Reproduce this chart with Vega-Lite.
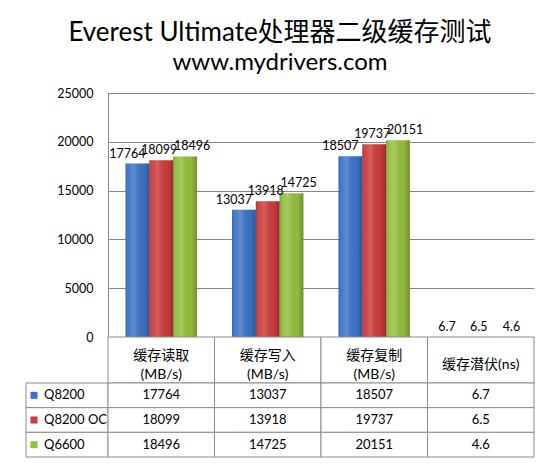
{
  "$schema": "https://vega.github.io/schema/vega-lite/v6.json",
  "background": "white",
  "padding": {"left": 25, "top": 20, "right": 17, "bottom": 9},
  "title": {
    "text": "Everest Ultimate处理器二级缓存测试",
    "subtitle": "www.mydrivers.com",
    "font": "Lato, Noto Sans CJK SC",
    "fontSize": 26,
    "fontWeight": "normal",
    "color": "#000000",
    "subtitleFont": "Lato, Noto Sans CJK SC",
    "subtitleFontSize": 24,
    "subtitleColor": "#000000",
    "subtitlePadding": 5,
    "anchor": "middle",
    "offset": 12
  },
  "datasets": {
    "perf": [
      {"category": "缓存读取\n(MB/s)", "series": "Q8200", "value": 17764},
      {"category": "缓存读取\n(MB/s)", "series": "Q8200 OC", "value": 18099},
      {"category": "缓存读取\n(MB/s)", "series": "Q6600", "value": 18496},
      {"category": "缓存写入\n(MB/s)", "series": "Q8200", "value": 13037},
      {"category": "缓存写入\n(MB/s)", "series": "Q8200 OC", "value": 13918},
      {"category": "缓存写入\n(MB/s)", "series": "Q6600", "value": 14725},
      {"category": "缓存复制\n(MB/s)", "series": "Q8200", "value": 18507},
      {"category": "缓存复制\n(MB/s)", "series": "Q8200 OC", "value": 19737},
      {"category": "缓存复制\n(MB/s)", "series": "Q6600", "value": 20151},
      {"category": "缓存潜伏(ns)", "series": "Q8200", "value": 6.7},
      {"category": "缓存潜伏(ns)", "series": "Q8200 OC", "value": 6.5},
      {"category": "缓存潜伏(ns)", "series": "Q6600", "value": 4.6}
    ],
    "cats": [
      {"category": "缓存读取\n(MB/s)"},
      {"category": "缓存写入\n(MB/s)"},
      {"category": "缓存复制\n(MB/s)"},
      {"category": "缓存潜伏(ns)"}
    ],
    "series": [
      {"series": "Q8200"},
      {"series": "Q8200 OC"},
      {"series": "Q6600"}
    ]
  },
  "columns": 2,
  "spacing": 0,
  "bounds": "flush",
  "align": "each",
  "concat": [
    {
      "width": 82,
      "height": 244,
      "data": {"values": []},
      "mark": "point"
    },
    {
      "width": 426,
      "height": 244,
      "data": {"name": "perf"},
      "encoding": {
        "x": {"field": "category", "type": "nominal", "sort": null, "scale": {"paddingInner": 0.33, "paddingOuter": 0.165}, "axis": null},
        "xOffset": {"field": "series", "type": "nominal", "sort": ["Q8200", "Q8200 OC", "Q6600"], "scale": {"paddingInner": 0, "paddingOuter": 0}},
        "y": {
          "field": "value",
          "type": "quantitative",
          "scale": {"domain": [0, 25000]},
          "axis": {
            "title": null,
            "values": [0, 5000, 10000, 15000, 20000, 25000],
            "format": "d",
            "grid": true,
            "gridColor": "#868686",
            "gridOpacity": 1,
            "domainColor": "#868686",
            "ticks": false,
            "labelPadding": 15,
            "labelFontSize": 12.5,
            "labelColor": "#000000",
            "labelFont": "Lato, Noto Sans CJK SC"
          }
        }
      },
      "layer": [
        {
          "mark": {"type": "bar"},
          "encoding": {
            "color": {
              "field": "series",
              "type": "nominal",
              "scale": {"domain": ["Q8200", "Q8200 OC", "Q6600"], "range": ["#3c74c8", "#cd3c3c", "#94bf3e"]},
              "legend": null
            }
          }
        },
        {
          "mark": {
            "type": "bar",
            "fill": {
              "gradient": "linear", "x1": 0, "x2": 1, "y1": 0, "y2": 0,
              "stops": [
                {"offset": 0, "color": "rgba(0,0,0,0.22)"},
                {"offset": 0.12, "color": "rgba(255,255,255,0.05)"},
                {"offset": 0.35, "color": "rgba(255,255,255,0.18)"},
                {"offset": 0.75, "color": "rgba(0,0,0,0.02)"},
                {"offset": 1, "color": "rgba(0,0,0,0.25)"}
              ]
            }
          }
        },
        {
          "transform": [{"filter": "datum.series === 'Q8200'"}],
          "mark": {"type": "text", "baseline": "bottom", "dy": -3, "dx": -10, "fontSize": 12.5, "font": "Lato, Noto Sans CJK SC", "color": "#000000"},
          "encoding": {"text": {"field": "value", "type": "nominal"}}
        },
        {
          "transform": [{"filter": "datum.series === 'Q8200 OC'"}],
          "mark": {"type": "text", "baseline": "bottom", "dy": -3, "dx": -2, "fontSize": 12.5, "font": "Lato, Noto Sans CJK SC", "color": "#000000"},
          "encoding": {"text": {"field": "value", "type": "nominal"}}
        },
        {
          "transform": [{"filter": "datum.series === 'Q6600'"}],
          "mark": {"type": "text", "baseline": "bottom", "dy": -3, "dx": 7, "fontSize": 12.5, "font": "Lato, Noto Sans CJK SC", "color": "#000000"},
          "encoding": {"text": {"field": "value", "type": "nominal"}}
        }
      ]
    },
    {
      "width": 82,
      "height": 46,
      "data": {"values": []},
      "mark": "point"
    },
    {
      "width": 426,
      "height": 46,
      "data": {"name": "cats"},
      "encoding": {
        "x": {"field": "category", "type": "nominal", "sort": null, "scale": {"paddingInner": 0, "paddingOuter": 0}, "axis": null}
      },
      "layer": [
        {"mark": {"type": "rect", "fill": "white", "stroke": "#8c8c8c", "strokeWidth": 1}},
        {
          "transform": [{"filter": "indexof(datum.category, '\\n') >= 0"}],
          "mark": {"type": "text", "lineBreak": "\n", "lineHeight": 19, "fontSize": 14, "font": "Lato, Noto Sans CJK SC", "color": "#000000", "baseline": "middle", "dy": -4},
          "encoding": {"text": {"field": "category", "type": "nominal"}}
        },
        {
          "transform": [{"filter": "indexof(datum.category, '\\n') < 0"}],
          "mark": {"type": "text", "fontSize": 14, "font": "Lato, Noto Sans CJK SC", "color": "#000000", "baseline": "middle", "dy": 5},
          "encoding": {"text": {"field": "category", "type": "nominal"}}
        }
      ]
    },
    {
      "width": 82,
      "height": 74,
      "data": {"name": "series"},
      "encoding": {
        "y": {"field": "series", "type": "nominal", "sort": null, "scale": {"paddingInner": 0, "paddingOuter": 0}, "axis": null}
      },
      "layer": [
        {"mark": {"type": "rect", "fill": "white", "stroke": "#8c8c8c", "strokeWidth": 1}},
        {
          "mark": {"type": "point", "shape": "square", "filled": true, "opacity": 1, "size": 50, "xOffset": -33},
          "encoding": {
            "color": {
              "field": "series",
              "type": "nominal",
              "scale": {"domain": ["Q8200", "Q8200 OC", "Q6600"], "range": ["#3c74c8", "#cd3c3c", "#94bf3e"]},
              "legend": null
            }
          }
        },
        {
          "mark": {"type": "text", "align": "left", "baseline": "middle", "dx": -23, "fontSize": 13, "font": "Lato, Noto Sans CJK SC", "color": "#000000"},
          "encoding": {"text": {"field": "series", "type": "nominal"}}
        }
      ]
    },
    {
      "width": 426,
      "height": 74,
      "data": {"name": "perf"},
      "encoding": {
        "x": {"field": "category", "type": "nominal", "sort": null, "scale": {"paddingInner": 0, "paddingOuter": 0}, "axis": null},
        "y": {"field": "series", "type": "nominal", "sort": ["Q8200", "Q8200 OC", "Q6600"], "scale": {"paddingInner": 0, "paddingOuter": 0}, "axis": null}
      },
      "layer": [
        {"mark": {"type": "rect", "fill": "white", "stroke": "#8c8c8c", "strokeWidth": 1}},
        {
          "mark": {"type": "text", "fontSize": 13, "font": "Lato, Noto Sans CJK SC", "color": "#000000", "baseline": "middle"},
          "encoding": {"text": {"field": "value", "type": "nominal"}}
        }
      ]
    }
  ],
  "config": {
    "view": {"stroke": null},
    "font": "Lato, Noto Sans CJK SC"
  }
}
